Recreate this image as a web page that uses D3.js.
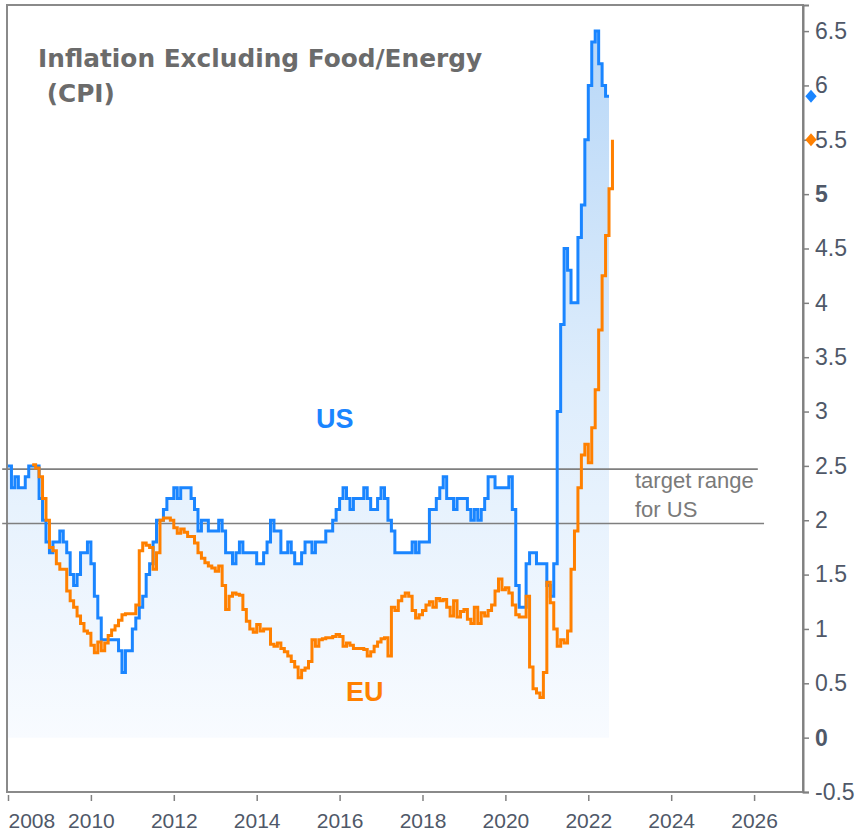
<!DOCTYPE html>
<html><head><meta charset="utf-8">
<script src="https://cdn.jsdelivr.net/npm/d3@7"></script>
<style>body{margin:0;background:#fff}svg{display:block}</style>
</head><body><svg id="c" width="859" height="833"></svg>
<script>
// ---- data ----
const titleLines = ["Inflation Excluding Food/Energy", " (CPI)"];
const usStart = 2008 + 0 / 12;          // Jan 2008, monthly
const usValues = [
  2.5,2.3,2.4,2.3,2.3,2.4,2.5,2.5,2.5,2.2,2.0,1.8,
  1.7,1.8,1.8,1.9,1.8,1.7,1.5,1.4,1.5,1.7,1.7,1.8,
  1.6,1.3,1.1,0.9,0.9,0.9,0.9,0.9,0.8,0.6,0.8,0.8,
  1.0,1.1,1.2,1.3,1.5,1.6,1.8,2.0,2.0,2.1,2.2,2.2,
  2.3,2.2,2.3,2.3,2.3,2.2,2.1,1.9,2.0,2.0,1.9,1.9,
  1.9,2.0,1.9,1.7,1.7,1.6,1.7,1.8,1.7,1.7,1.7,1.7,
  1.6,1.6,1.7,1.8,2.0,1.9,1.9,1.7,1.7,1.8,1.7,1.6,
  1.6,1.7,1.8,1.8,1.7,1.8,1.8,1.8,1.9,1.9,2.0,2.1,
  2.2,2.3,2.2,2.1,2.2,2.2,2.2,2.3,2.2,2.1,2.1,2.2,
  2.3,2.2,2.0,1.9,1.7,1.7,1.7,1.7,1.7,1.8,1.7,1.8,
  1.8,1.8,2.1,2.1,2.2,2.3,2.4,2.2,2.2,2.1,2.2,2.2,
  2.2,2.1,2.0,2.1,2.0,2.1,2.2,2.4,2.4,2.3,2.3,2.3,
  2.3,2.4,2.1,1.4,1.2,1.2,1.6,1.7,1.7,1.6,1.6,1.6,
  1.4,1.3,1.6,3.0,3.8,4.5,4.3,4.0,4.0,4.6,4.9,5.5,
  6.0,6.4,6.5,6.2,6.0,5.9,5.9
];
const euStart = 2008 + 7 / 12;          // Aug 2008, monthly
const euValues = [
  2.51,2.48,2.4,2.2,2.0,1.75,1.72,1.6,1.55,1.55,
  1.35,1.26,1.2,1.12,1.05,0.98,0.96,0.85,0.78,0.88,
  0.8,0.87,0.94,0.99,1.03,1.08,1.13,1.14,1.14,1.14,
  1.22,1.72,1.79,1.77,1.75,1.55,1.7,2.0,2.02,2.02,
  2.0,1.93,1.88,1.92,1.89,1.85,1.85,1.79,1.7,1.65,
  1.61,1.58,1.56,1.53,1.58,1.4,1.18,1.3,1.33,1.32,
  1.31,1.18,1.07,1.0,0.97,1.04,0.98,1.0,1.0,0.86,
  0.84,0.87,0.82,0.79,0.75,0.7,0.65,0.55,0.62,0.64,
  0.7,0.9,0.84,0.9,0.91,0.92,0.92,0.93,0.95,0.93,
  0.84,0.87,0.85,0.82,0.82,0.82,0.81,0.75,0.79,0.84,
  0.88,0.91,0.92,0.75,1.2,1.17,1.26,1.3,1.33,1.3,
  1.17,1.1,1.13,1.17,1.22,1.25,1.2,1.28,1.26,1.27,
  1.2,1.12,1.26,1.11,1.16,1.18,1.09,1.05,1.2,1.05,
  1.15,1.12,1.17,1.22,1.35,1.46,1.36,1.38,1.33,1.22,
  1.13,1.11,1.11,1.3,0.65,0.45,0.41,0.37,0.6,1.43,
  1.24,1.0,0.84,0.9,0.87,0.98,1.55,1.9,2.3,2.6,
  2.7,2.53,2.85,3.2,3.75,4.25,4.62,5.05,5.5
];
const xTicks = [2008,2010,2012,2014,2016,2018,2020,2022,2024,2026];
const yTicks = [-0.5,0,0.5,1,1.5,2,2.5,3,3.5,4,4.5,5,5.5,6,6.5];
const boldYTicks = [0,5];
const targetLevels = [2.47, 1.97];
const targetEnds = [2026.09, 2026.24];
const targetLabel = ["target range", "for US"];
const lastValues = [{name:"US", value:5.9}, {name:"EU", value:5.5}];
const colors = {US:"#1a85ff", EU:"#ff8000"};

// ---- chart ----
const svg = d3.select("#c");
const x = d3.scaleLinear().domain([2008, 2027.18]).range([8, 803]);
const y = d3.scaleLinear().domain([-0.5, 6.74]).range([792, 5]);

const us = usValues.map((v,i)=>({t: usStart + i/12, v}));
const eu = euValues.map((v,i)=>({t: euStart + i/12, v}));

const defs = svg.append("defs");
const grad = defs.append("linearGradient").attr("id","g")
  .attr("gradientUnits","userSpaceOnUse")
  .attr("x1",0).attr("x2",0).attr("y1",y(6.5)).attr("y2",y(0));
grad.append("stop").attr("offset","0%").attr("stop-color","#b8d7f7");
grad.append("stop").attr("offset","50%").attr("stop-color","#deedfc");
grad.append("stop").attr("offset","100%").attr("stop-color","#f8fbff");

// fill under US
svg.append("path").datum(us)
  .attr("fill","url(#g)")
  .attr("d", d3.area().curve(d3.curveStepAfter)
    .x(d=>x(d.t)).y0(y(0)).y1(d=>y(d.v)));

// frame
svg.append("rect").attr("x",x(2008)-1).attr("y",y(6.74)).attr("width",x(2027.18)-x(2008)+1)
  .attr("height",y(-0.5)-y(6.74)).attr("fill","none").attr("stroke","#8a8a8a").attr("stroke-width",2);

// target range lines
svg.append("g").selectAll("line").data(targetLevels).join("line")
  .attr("x1", x(2007.86)).attr("x2",(d,i)=>x(targetEnds[i]))
  .attr("y1", d=>y(d)).attr("y2", d=>y(d))
  .attr("stroke","#7f7f7f").attr("stroke-width",1.6);

// lines
const line = d3.line().curve(d3.curveStepAfter).x(d=>x(d.t)).y(d=>y(d.v));
svg.append("path").datum(us).attr("fill","none").attr("stroke",colors.US)
  .attr("stroke-width",3).attr("d", line);
svg.append("path").datum(eu).attr("fill","none").attr("stroke",colors.EU)
  .attr("stroke-width",3).attr("d", line);

// right axis
const ya = svg.append("g").attr("transform",`translate(${x(2027.18)},0)`)
  .call(d3.axisRight(y).tickValues(yTicks).tickSize(6).tickPadding(6).tickFormat(d=>String(d)));
ya.select(".domain").attr("stroke","#808080").attr("stroke-width",2);
ya.selectAll(".tick line").attr("stroke","#808080").attr("stroke-width",1.5);
ya.selectAll(".tick text").attr("fill","#4f5868")
  .style("font-family","'Liberation Sans', Arial, sans-serif").style("font-size","23px")
  .style("font-weight", d=>boldYTicks.includes(d)?"bold":"normal");

// bottom axis
const xa = svg.append("g").attr("transform",`translate(0,795)`)
  .call(d3.axisBottom(x).tickValues(xTicks).tickSize(6).tickPadding(12).tickFormat(d=>String(d)));
xa.select(".domain").remove();
xa.selectAll(".tick line").attr("stroke","#808080").attr("stroke-width",1.5);
xa.selectAll(".tick text").attr("fill","#4f5868")
  .style("font-family","'Liberation Sans', Arial, sans-serif").style("font-size","21px")
  .attr("text-anchor", d=>d===2008?"start":"middle");

// last value markers
svg.append("g").selectAll("path").data(lastValues).join("path")
  .attr("transform", d=>`translate(${x(2027.18)+8},${y(d.value)}) scale(1,1.15) rotate(45)`)
  .attr("d", d3.symbol(d3.symbolSquare, 64))
  .attr("fill", d=>colors[d.name]);

// title
const title = svg.append("text").attr("fill","#6b6b6b")
  .style("font-family","'DejaVu Sans', sans-serif").style("font-weight","bold").style("font-size","24.8px");
title.append("tspan").attr("x",38).attr("y",67).text(titleLines[0]);
title.append("tspan").attr("x",38).attr("y",102).style("white-space","pre").text(titleLines[1]);

// series labels
svg.append("text").attr("x",316).attr("y",428).attr("fill",colors.US)
  .style("font-family","'Liberation Sans', Arial, sans-serif").style("font-weight","bold").style("font-size","27px").text("US");
svg.append("text").attr("x",346).attr("y",701).attr("fill",colors.EU)
  .style("font-family","'Liberation Sans', Arial, sans-serif").style("font-weight","bold").style("font-size","27px").text("EU");

// target label
svg.append("g").selectAll("text").data(targetLabel).join("text")
  .attr("x",635).attr("y",(d,i)=>488+i*29).attr("fill","#7a7a7a")
  .style("font-family","'Liberation Sans', Arial, sans-serif").style("font-size","22px").text(d=>d);
</script>
</body></html>
